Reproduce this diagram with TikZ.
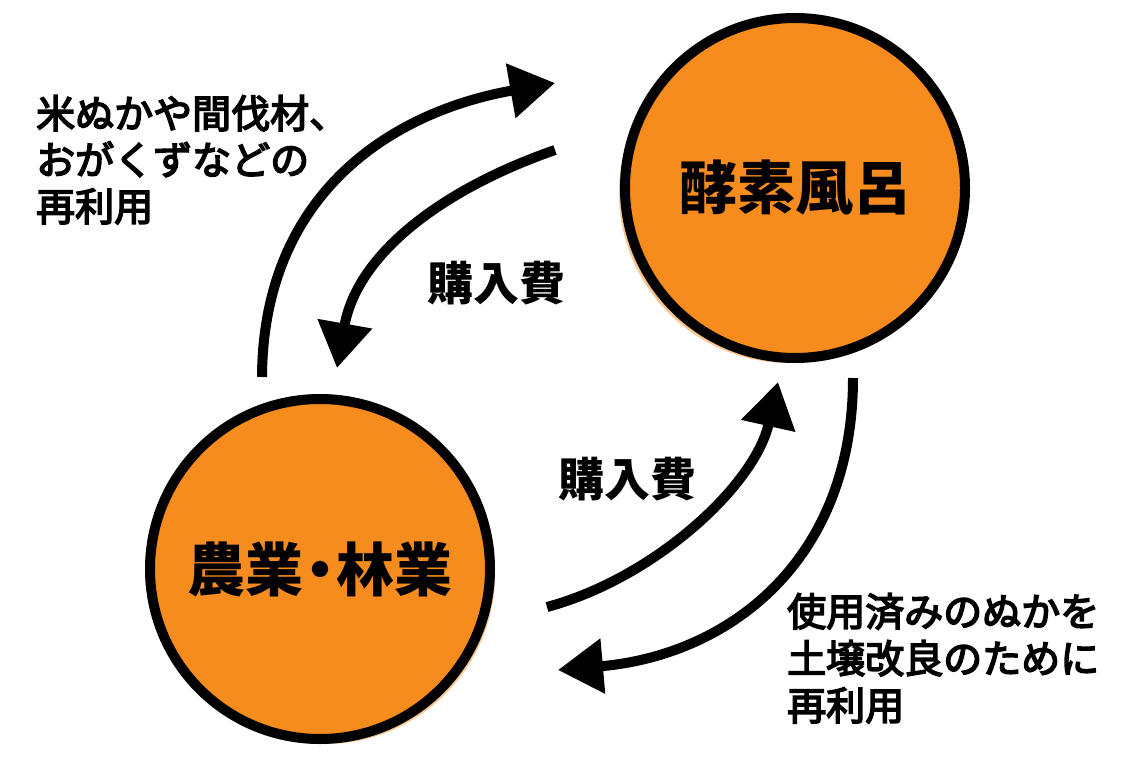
\documentclass[tikz,border=0pt]{standalone}
\usepackage{fontspec}
\setmainfont{Noto Sans CJK JP}
\newfontfamily\notefont{Noto Sans CJK JP}[FakeBold=4]
\usetikzlibrary{arrows.meta,shadows}
\definecolor{bathorange}{RGB}{246,140,30}
\begin{document}
\begin{tikzpicture}[x=1pt,y=-1pt,
  bubble/.style={circle, draw=black, line width=10pt, fill=bathorange,
    minimum size=340pt, inner sep=0pt, font=\bfseries\fontsize{58}{60}\selectfont},
  flow/.style={line width=10pt, -{Triangle[length=45pt,width=53pt]}},
  note/.style={anchor=north west, inner sep=0pt, align=left},
  cost/.style={inner sep=0pt, font=\bfseries\fontsize{46}{48}\selectfont}]
\useasboundingbox (0,0) rectangle (1134,757);
\node[bubble, drop shadow={shadow xshift=-6pt, shadow yshift=-5pt, fill=bathorange, draw=none, opacity=0.5}] (bath) at (795,188) {酵素風呂};
\node[bubble, drop shadow={shadow xshift=5pt, shadow yshift=-5pt, fill=bathorange, draw=none, opacity=0.5}] (farm) at (320,569) {農業\hspace{-0.22em}・\hspace{-0.22em}林業};
% free ends of the four curved connectors
\coordinate (a1s) at (262,377);
\coordinate (a1e) at (555,83);
\coordinate (a2s) at (555,150);
\coordinate (a2e) at (337,368);
\coordinate (a3s) at (547,607);
\coordinate (a3e) at (778,382);
\coordinate (a4s) at (853,378);
\coordinate (a4e) at (558,670);
\draw[flow] (a1s) .. controls (263,195) and (390,112) .. (a1e);
\draw[flow] (a2s) .. controls (440,190) and (357,255) .. (a2e);
\draw[flow] (a3s) .. controls (655,578) and (755,485) .. (a3e);
\draw[flow] (a4s) .. controls (853,560) and (730,655) .. (a4e);
\node[cost] (cost1) at (496,283) {購入費};
\node[cost] (cost2) at (627,479) {購入費};
\node[note, font=\notefont\fontsize{39}{46.5}\selectfont] (reuse1) at (36,95) {米ぬかや間伐材、\\おがくずなどの\\再利用};
\node[note, font=\notefont\fontsize{39}{47}\selectfont] (reuse2) at (787,593) {使用済みのぬかを\\土壌改良のために\\再利用};
\end{tikzpicture}
\end{document}
